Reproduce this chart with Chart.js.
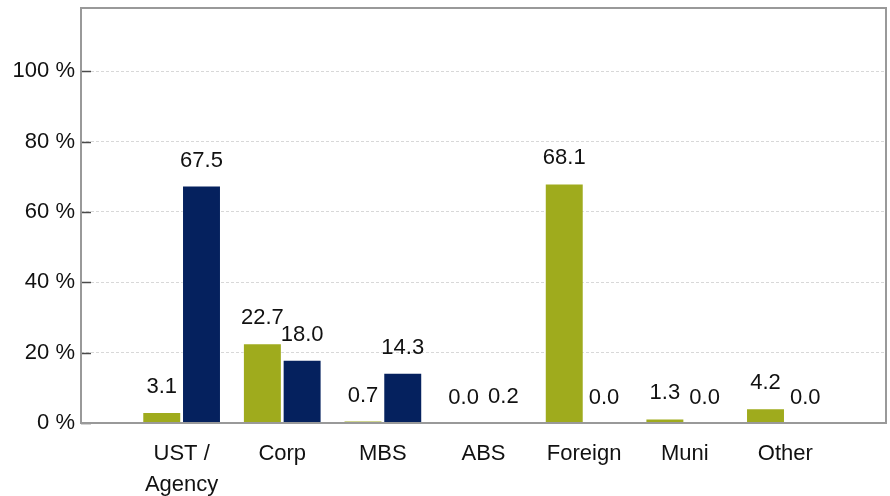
<!DOCTYPE html>
<html>
<head>
<meta charset="utf-8">
<title>Holdings by sector</title>
<script src="https://cdn.jsdelivr.net/npm/chart.js@4"></script>
<style>
  html, body { margin: 0; padding: 0; background: #fff; }
  canvas { display: block; }
</style>
</head>
<body>
<canvas id="chart" width="890" height="496"></canvas>
<script>
// empty slots at both ends leave a gap before the first and after the last group
const sectors = ["", ["UST /", "Agency"], "Corp", "MBS", "ABS", "Foreign", "Muni", "Other", ""];
const greenValues = [null, 3.1, 22.7, 0.7, 0.0, 68.1, 1.3, 4.2, null];
const navyValues = [null, 67.5, 18.0, 14.3, 0.2, 0.0, 0.0, 0.0, null];
const yTicks = [0, 20, 40, 60, 80, 100];

const FONT = "'Liberation Sans', Arial, sans-serif";
const FONT_SIZE = 22;
const GREEN = "#9fab1d";
const NAVY = "#05215e";

// frame round the plot, short inward ticks on the y axis and values above bars
const decorations = {
  id: "decorations",
  afterDatasetsDraw(chart) {
    const { ctx, chartArea: a } = chart;
    const y = chart.scales.y;
    ctx.save();

    ctx.strokeStyle = "#4a4a4a";
    ctx.lineWidth = 1.5;
    yTicks.forEach((v) => {
      const py = Math.round(y.getPixelForValue(v)) + 0.5;
      ctx.beginPath();
      ctx.moveTo(a.left, py);
      ctx.lineTo(a.left + 10, py);
      ctx.stroke();
    });

    ctx.strokeStyle = "#999";
    ctx.lineWidth = 2;
    ctx.strokeRect(a.left, a.top, a.right - a.left, a.bottom - a.top);

    ctx.fillStyle = "#111";
    ctx.font = FONT_SIZE + "px " + FONT;
    ctx.textAlign = "center";
    ctx.textBaseline = "alphabetic";
    chart.data.datasets.forEach((ds, i) => {
      chart.getDatasetMeta(i).data.forEach((bar, j) => {
        const v = ds.data[j];
        if (v === null) return;
        ctx.fillText(v.toFixed(1), bar.x, bar.y - 19);
      });
    });
    ctx.restore();
  },
};

// keep the plot edges fixed instead of padding for the outermost labels
const noEdgePadding = (scale) => {
  scale.paddingTop = 0;
  scale.paddingBottom = 0;
  scale.paddingLeft = 0;
  scale.paddingRight = 0;
};

new Chart(document.getElementById("chart"), {
  type: "bar",
  data: {
    labels: sectors,
    datasets: [
      {
        label: "Green",
        data: greenValues,
        backgroundColor: GREEN,
        borderColor: "rgba(255,255,255,0.45)",
        borderWidth: 1,
        categoryPercentage: 0.79,
        barPercentage: 0.98,
      },
      {
        label: "Navy",
        data: navyValues,
        backgroundColor: NAVY,
        borderColor: "rgba(255,255,255,0.3)",
        borderWidth: 1,
        categoryPercentage: 0.79,
        barPercentage: 0.98,
      },
    ],
  },
  options: {
    responsive: false,
    animation: false,
    layout: { padding: { left: 0, top: 8, right: 4, bottom: 0 } },
    plugins: {
      legend: { display: false },
      tooltip: { enabled: false },
    },
    scales: {
      x: {
        offset: false,
        grid: { display: false, drawTicks: false },
        border: { display: false },
        ticks: {
          color: "#111",
          padding: 16,
          maxRotation: 0,
          autoSkip: false,
          font: { family: FONT, size: FONT_SIZE, lineHeight: 1.4 },
        },
        afterFit: (scale) => {
          scale.height = 73;
          noEdgePadding(scale);
        },
      },
      y: {
        min: 0,
        max: 118,
        grid: {
          color: "#d8d8d8",
          lineWidth: 1,
          drawTicks: false,
        },
        border: { display: false, dash: [3, 2] },
        ticks: {
          stepSize: 20,
          padding: 6,
          color: "#111",
          font: { family: FONT, size: FONT_SIZE },
          callback: (v) => v + " %",
        },
        afterBuildTicks: (scale) => {
          scale.ticks = yTicks.map((v) => ({ value: v }));
        },
        afterFit: (scale) => {
          scale.width = 81;
          noEdgePadding(scale);
        },
      },
    },
  },
  plugins: [decorations],
});
</script>
</body>
</html>
